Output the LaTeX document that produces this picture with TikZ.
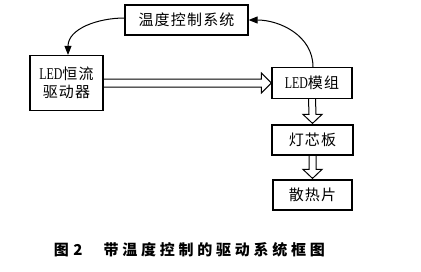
\documentclass[tikz,border=0pt]{standalone}
\usepackage{fontspec}
\usepackage{tikz}
\usetikzlibrary{arrows.meta}
\newfontfamily\cjk[LetterSpace=8]{Noto Sans CJK SC}
\newfontfamily\capfont[LetterSpace=25]{Noto Sans CJK SC}
\newfontfamily\latn{Liberation Serif}
\newcommand{\ledtxt}{{\latn\fontsize{16.5}{18}\selectfont\scalebox{0.72}[1]{LED}}}

\begin{document}
\begin{tikzpicture}[x=1pt, y=-1pt, line width=1.2pt,
      box/.style={draw, rectangle, inner sep=0pt, font=\fontsize{15}{18}\selectfont\cjk},
      loop/.style={line width=1pt, -{Triangle[length=9pt,width=7pt]}},
      hollow/.style={line width=1pt, line join=miter}]
    \useasboundingbox (0,0) rectangle (421,271);
    \node[box, minimum width=123pt, minimum height=30pt] (tctrl) at (186.5,20) {温度控制系统};
    \node[box, minimum width=73pt, minimum height=55pt, align=center] (drv) at (66.5,83) {\ledtxt 恒流\\驱动器};
    \node[box, minimum width=80pt, minimum height=31pt] (led) at (312,83) {\ledtxt 模组};
    \node[box, minimum width=81pt, minimum height=30pt] (cup) at (312.5,140) {灯芯板};
    \node[box, minimum width=79pt, minimum height=30pt] (sink) at (312.5,195) {散热片};
    % feedback loop through the controller
    \draw[loop] ([yshift=2pt]tctrl.west) to[out=180,in=90] ([xshift=1.5pt]drv.north);
    \draw[loop] ([xshift=1pt]led.north) to[out=90,in=0] (tctrl.east);
    % hollow power arrows
    \draw[hollow] ([yshift=4pt]drv.east) -- ([xshift=-10pt,yshift=4pt]led.west)
      -- ([xshift=-10pt,yshift=10pt]led.west) -- (led.west)
      -- ([xshift=-10pt,yshift=-10pt]led.west) -- ([xshift=-10pt,yshift=-4pt]led.west)
      -- ([yshift=-4pt]drv.east);
    \draw[hollow] ([xshift=-3.5pt]led.south) -- ([xshift=-3.5pt,yshift=10pt]cup.north)
      -- ([xshift=-9.5pt,yshift=10pt]cup.north) -- ([yshift=1pt]cup.north)
      -- ([xshift=9.5pt,yshift=10pt]cup.north) -- ([xshift=3.5pt,yshift=10pt]cup.north)
      -- ([xshift=3.5pt]led.south);
    \draw[hollow] ([xshift=-3.5pt]cup.south) -- ([xshift=-3.5pt,yshift=10pt]sink.north)
      -- ([xshift=-9.5pt,yshift=10pt]sink.north) -- ([yshift=1pt]sink.north)
      -- ([xshift=9.5pt,yshift=10pt]sink.north) -- ([xshift=3.5pt,yshift=10pt]sink.north)
      -- ([xshift=3.5pt]cup.south);
    \node[anchor=west, font=\fontsize{15}{18}\selectfont\capfont\bfseries] (caption) at (50,250) {图\hspace{0.3em}2\hspace{1.4em}带温度控制的驱动系统框图};
\end{tikzpicture}
\end{document}
